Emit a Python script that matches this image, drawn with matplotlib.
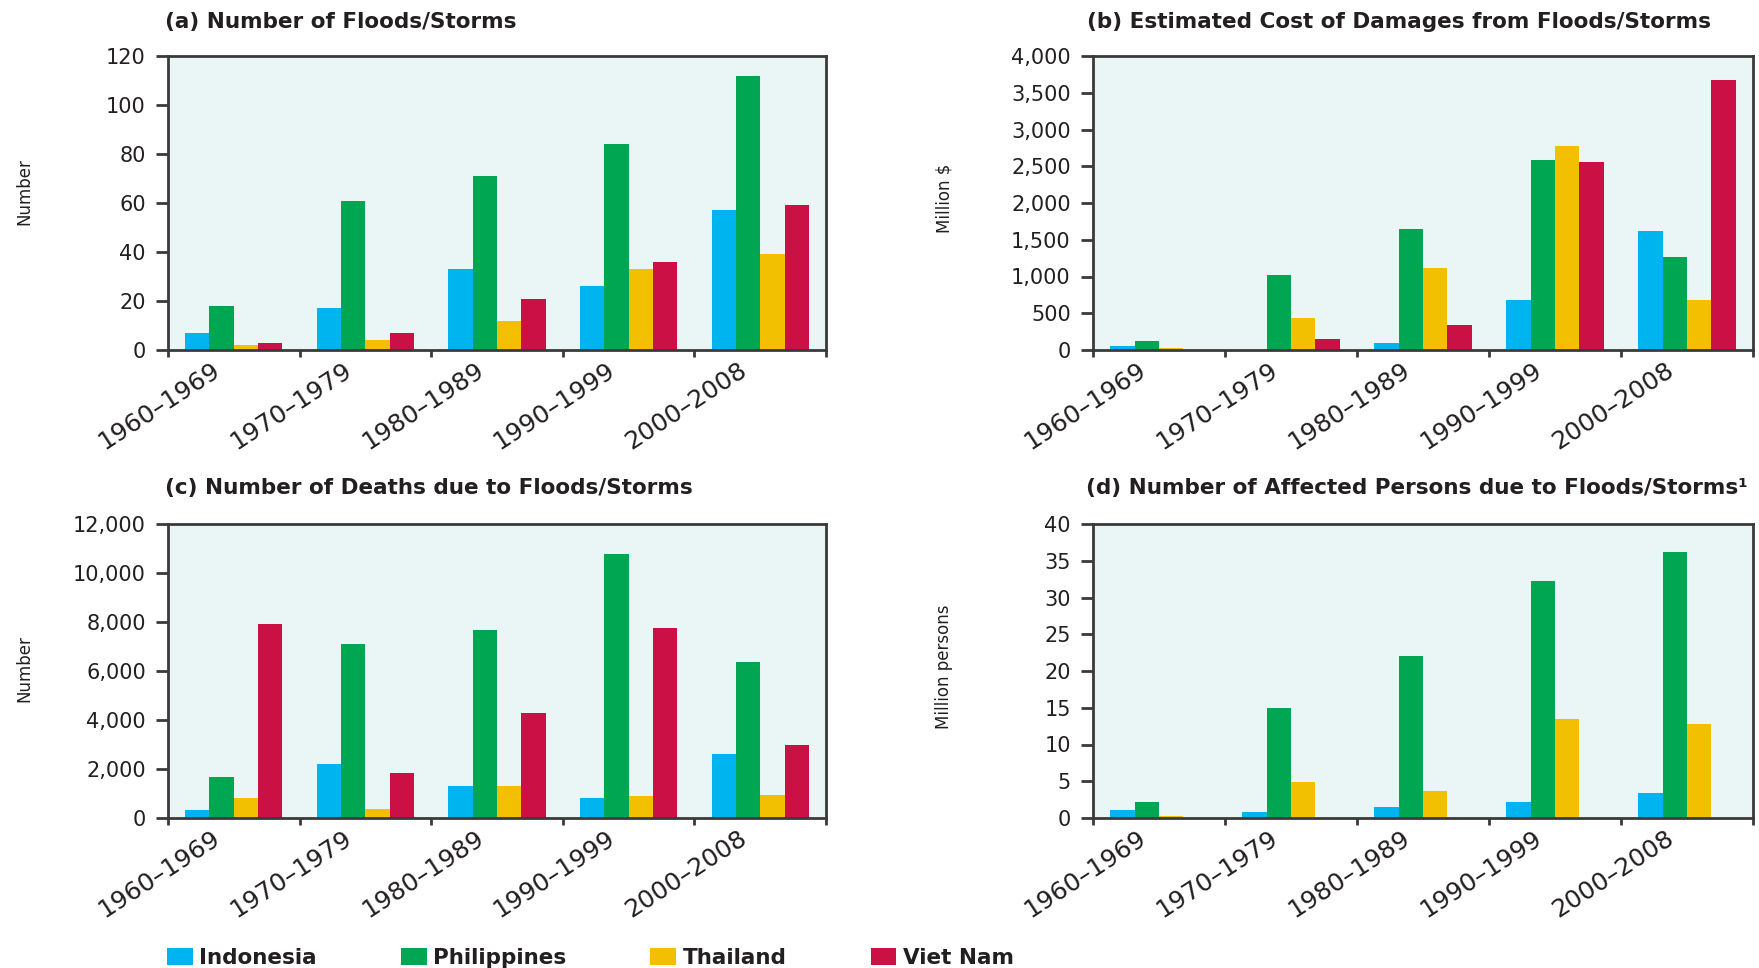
import matplotlib
matplotlib.use("Agg")
import matplotlib.pyplot as plt
from matplotlib.ticker import FuncFormatter, FixedLocator
import numpy as np

# ---- data ----
periods = ["1960\u20131969", "1970\u20131979", "1980\u20131989", "1990\u20131999", "2000\u20132008"]
countries = ["Indonesia", "Philippines", "Thailand", "Viet Nam"]

floods_indonesia = [7, 17, 33, 26, 57]
floods_philippines = [18, 61, 71, 84, 112]
floods_thailand = [2, 4, 12, 33, 39]
floods_vietnam = [3, 7, 21, 36, 59]

damages_indonesia = [50, 0, 100, 680, 1625]
damages_philippines = [125, 1015, 1650, 2585, 1260]
damages_thailand = [30, 440, 1115, 2780, 680]
damages_vietnam = [0, 150, 345, 2560, 3675]

deaths_indonesia = [310, 2190, 1320, 820, 2620]
deaths_philippines = [1690, 7110, 7680, 10790, 6380]
deaths_thailand = [820, 370, 1320, 880, 950]
deaths_vietnam = [7900, 1840, 4280, 7760, 2980]

affected_indonesia = [1.05, 0.8, 1.5, 2.2, 3.4]
affected_philippines = [2.2, 15.0, 22.0, 32.3, 36.2]
affected_thailand = [0.3, 4.9, 3.7, 13.5, 12.8]
affected_vietnam = [0, 0, 0, 0, 0]

titles = ["(a) Number of Floods/Storms",
          "(b) Estimated Cost of Damages from Floods/Storms",
          "(c) Number of Deaths due to Floods/Storms",
          "(d) Number of Affected Persons due to Floods/Storms\u00b9"]
ylabels = ["Number", "Million $", "Number", "Million persons"]

colors = ["#00B5EF", "#00A651", "#F2C000", "#CB1045"]
bg = "#EAF6F5"
dark = "#3a3a3a"
txt = "#231F20"

W, H = 1759, 968
plt.rcParams['font.family'] = ['DejaVu Sans']
fig = plt.figure(figsize=(W / 100, H / 100), dpi=100)

def px_axes(l, r, t, b):
    return fig.add_axes([l / W, 1 - b / H, (r - l) / W, (b - t) / H])

panels = [
    dict(box=(168, 826, 56, 350), data=[floods_indonesia, floods_philippines, floods_thailand, floods_vietnam],
         ymax=120, step=20, title_xy=(165, 22), ylab_xy=(24, 192)),
    dict(box=(1093, 1753, 56, 350), data=[damages_indonesia, damages_philippines, damages_thailand, damages_vietnam],
         ymax=4000, step=500, title_xy=(1087, 22), ylab_xy=(944, 198)),
    dict(box=(168, 826, 524, 818), data=[deaths_indonesia, deaths_philippines, deaths_thailand, deaths_vietnam],
         ymax=12000, step=2000, title_xy=(165, 488), ylab_xy=(24, 669)),
    dict(box=(1093, 1753, 524, 818), data=[affected_indonesia, affected_philippines, affected_thailand, affected_vietnam],
         ymax=40, step=5, title_xy=(1086, 488), ylab_xy=(944, 667)),
]

x = np.arange(len(periods))
bw = 0.185
label_shift = 0.12
handles = []
for i, p in enumerate(panels):
    ax = px_axes(*p["box"])
    ax.set_facecolor(bg)
    for k, series in enumerate(p["data"]):
        b = ax.bar(x + (k - 1.5) * bw, series, width=bw, color=colors[k], linewidth=0, label=countries[k])
        if i == 0:
            handles.append(b)
    ax.set_xlim(-0.5, len(periods) - 0.5)
    ax.set_ylim(0, p["ymax"])
    ax.set_yticks(np.arange(0, p["ymax"] + p["step"] / 2, p["step"]))
    ax.yaxis.set_major_formatter(FuncFormatter(lambda v, pos: f"{int(v):,}"))
    # group boundaries as major ticks, labels near centers as minor ticks
    ax.xaxis.set_major_locator(FixedLocator(np.arange(-0.5, len(periods), 1.0)))
    ax.set_xticklabels([""] * (len(periods) + 1))
    ax.set_xticks(x - label_shift, minor=True)
    ax.set_xticklabels(periods, minor=True, rotation=33, ha="right", va="center",
                       rotation_mode="anchor", fontsize=18, color=txt)
    ax.tick_params(axis="x", which="minor", length=0, pad=13)
    ax.tick_params(axis="x", which="major", length=5, width=2, color=dark, direction="out")
    ax.tick_params(axis="y", length=9, width=2, color=dark, pad=7, labelsize=15, labelcolor=txt)
    for s in ax.spines.values():
        s.set_color(dark)
        s.set_linewidth(2)
    fig.text(p["title_xy"][0] / W, 1 - p["title_xy"][1] / H, titles[i], ha="left", va="center",
             fontsize=15.5, fontweight="bold", color=txt)
    fig.text(p["ylab_xy"][0] / W, 1 - p["ylab_xy"][1] / H, ylabels[i], ha="center", va="center",
             rotation=90, fontsize=12, color=txt)

leg = fig.legend(handles, countries, loc="center left", bbox_to_anchor=(167 / W, 1 - 958 / H),
                 ncol=4, frameon=False, borderpad=0, borderaxespad=0,
                 handlelength=1.2, handleheight=0.78, handletextpad=0.3, columnspacing=3.9,
                 prop=dict(size=15.5, weight="bold"))
for t in leg.get_texts():
    t.set_color(txt)

fig.savefig("out.png", dpi=100, facecolor="white")
